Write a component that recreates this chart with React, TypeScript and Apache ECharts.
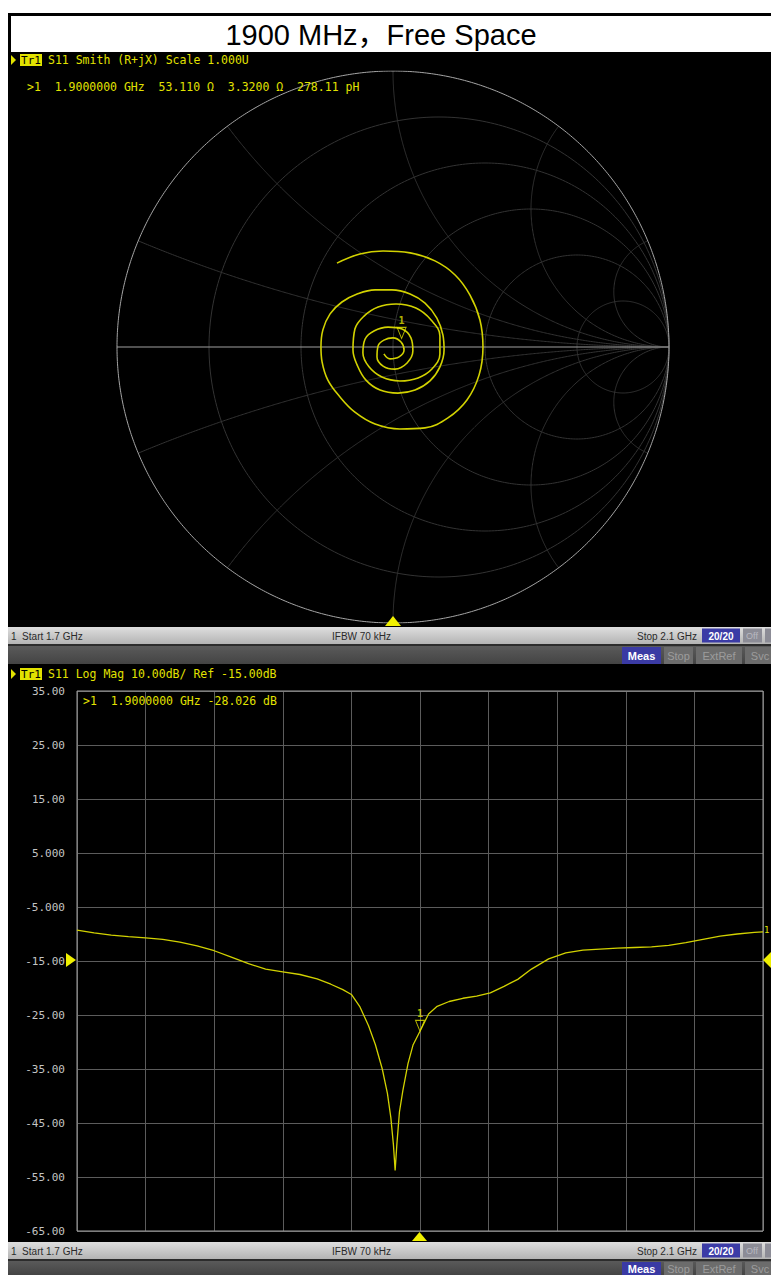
import React, { useEffect, useRef } from "react";
import * as echarts from "echarts";

// ---------------- texts ----------------
const titleText = "1900 MHz，Free Space";
const smithHeader = "S11 Smith (R+jX) Scale 1.000U";
const smithReadout = ">1  1.9000000 GHz  53.110 Ω  3.3200 Ω  278.11 pH";
const logHeader = "S11 Log Mag 10.00dB/ Ref -15.00dB";
const logReadout = ">1  1.9000000 GHz -28.026 dB";
const statusStart = "1  Start 1.7 GHz";
const statusIfbw = "IFBW 70 kHz";
const statusStop = "Stop 2.1 GHz";
const statusAvg = "20/20";
const softKeys = ["Meas", "Stop", "ExtRef", "Svc"];

// ---------------- sweep / marker ----------------
const freqStart = 1.7;
const freqStop = 2.1;
const markerFreq = 1.9;
const markerDb = -28.026;
const markerR = 53.11;
const markerX = 3.32;
const z0 = 50;

// ---------------- Smith grid values ----------------
const resistanceGrid = [0.2, 0.5, 1, 2, 5];
const reactanceGrid = [0.2, 0.5, 1, 2, 5];

// ---------------- Smith trace (reflection coefficient, re / im) ----------------
const smithRe = [
  -0.203, -0.12, -0.036, 0.062, 0.152, 0.225, 0.279, 0.315, 0.326, 0.312, 0.268, 0.199, 0.116, 0.025,
  -0.065, -0.138, -0.192, -0.236, -0.257, -0.261,
  -0.254, -0.228, -0.185, -0.13, -0.065, -0.004, 0.062, 0.116, 0.159, 0.181, 0.185, 0.17, 0.134, 0.08,
  0.018, -0.047, -0.098, -0.13, -0.145,
  -0.138, -0.105, -0.054, 0.011, 0.083, 0.138, 0.17, 0.17, 0.141, 0.091, 0.025, -0.04, -0.087, -0.109,
  -0.101, -0.069, -0.018, 0.033, 0.065, 0.072, 0.051, 0.007, -0.036, -0.058,
  -0.054, -0.033, 0.0, 0.029, 0.04, 0.022, -0.011, -0.033,
];
const smithIm = [
  0.304, 0.337, 0.348, 0.341, 0.312, 0.261, 0.188, 0.098, 0.0, -0.101, -0.192, -0.257, -0.293, -0.297,
  -0.279, -0.236, -0.181, -0.12, -0.054, 0.0,
  0.062, 0.12, 0.163, 0.192, 0.207, 0.207, 0.192, 0.159, 0.105, 0.043, -0.011, -0.072, -0.123, -0.156,
  -0.167, -0.156, -0.12, -0.065, -0.011,
  0.065, 0.112, 0.145, 0.156, 0.141, 0.098, 0.04, -0.025, -0.08, -0.112, -0.123, -0.109, -0.072, -0.022,
  0.029, 0.058, 0.072, 0.065, 0.033, -0.014, -0.058, -0.08, -0.069, -0.036,
  0.004, 0.025, 0.033, 0.018, -0.011, -0.036, -0.043, -0.025,
];

// ---------------- Log Mag trace ----------------
const freqGHz = [
  1.7, 1.71, 1.72, 1.73, 1.74, 1.75, 1.76, 1.77, 1.78, 1.79, 1.8, 1.81, 1.82, 1.83, 1.84, 1.848, 1.855,
  1.86, 1.865, 1.87, 1.874, 1.878, 1.881, 1.883, 1.8845, 1.8855, 1.8865, 1.888, 1.89, 1.893, 1.896, 1.9,
  1.905, 1.91, 1.917, 1.925, 1.933, 1.941, 1.949, 1.957, 1.965, 1.975, 1.985, 1.995, 2.005, 2.015, 2.025,
  2.035, 2.045, 2.055, 2.065, 2.075, 2.085, 2.095, 2.1,
];
const s11Db = [
  -9.3, -9.8, -10.2, -10.5, -10.7, -11.0, -11.5, -12.2, -13.1, -14.3, -15.5, -16.5, -17.0, -17.5, -18.3,
  -19.3, -20.3, -21.2, -23.5, -27.0, -30.5, -35.0, -39.5, -44.0, -49.0, -53.8, -49.0, -43.0, -39.0, -34.0,
  -30.5, -28.0, -24.8, -23.4, -22.5, -21.9, -21.5, -20.9, -19.7, -18.4, -16.5, -14.6, -13.5, -13.0, -12.8,
  -12.6, -12.5, -12.4, -12.1, -11.6, -11.0, -10.4, -10.0, -9.7, -9.6,
];
const yTickLabels = [
  "-65.00", "-55.00", "-45.00", "-35.00", "-25.00", "-15.00", "-5.000", "5.000", "15.00", "25.00", "35.00",
];
const dbMin = -65;
const dbMax = 35;

// ---------------- helpers ----------------
const YEL = "#e2e200";
const TRACE = "#d2d200";
const MONO = "'DejaVu Sans Mono', monospace";
const SANS = "'Liberation Sans', Arial, 'Noto Sans CJK SC', sans-serif";

function gammaFromZ(r: number, x: number): [number, number] {
  const den = (r + 1) * (r + 1) + x * x;
  return [(r * r - 1 + x * x) / den, (2 * x) / den];
}
function circlePts(cx: number, cy: number, rad: number, n = 360) {
  const pts: number[][] = [];
  for (let i = 0; i <= n; i++) {
    const a = (i / n) * Math.PI * 2;
    pts.push([cx + rad * Math.cos(a), cy + rad * Math.sin(a)]);
  }
  return pts;
}
function reactanceArc(x: number) {
  const pts: number[][] = [];
  const n = 400;
  for (let i = 0; i <= n; i++) {
    const t = (i / n) * (Math.PI / 2) * 0.9998;
    pts.push(gammaFromZ(Math.tan(t), x));
  }
  pts.push([1, 0]);
  return pts;
}

function rect(x: number, y: number, w: number, h: number, fill: any, z = 0) {
  return { type: "rect", shape: { x, y, width: w, height: h }, style: { fill }, z, silent: true };
}
function txt(
  x: number,
  y: number,
  text: string,
  fill: string,
  size: number,
  family: string,
  align = "left",
  weight = "normal",
  z = 5
) {
  return {
    type: "text",
    x,
    y,
    z,
    silent: true,
    style: {
      text,
      fill,
      fontSize: size,
      fontFamily: family,
      fontWeight: weight,
      align,
      verticalAlign: "middle",
      textAlign: align,
      textVerticalAlign: "middle",
    },
  };
}
function poly(points: number[][], fill: string, z = 6) {
  return { type: "polygon", shape: { points }, style: { fill }, z, silent: true };
}

function statusBar(y: number) {
  const grad = new echarts.graphic.LinearGradient(0, 0, 0, 1, [
    { offset: 0, color: "#dedede" },
    { offset: 1, color: "#b4b4b4" },
  ]);
  return [
    rect(8, y, 763, 17, grad, 1),
    txt(11, y + 9, statusStart, "#2a2a2a", 10, SANS),
    txt(332, y + 9, statusIfbw, "#2a2a2a", 10, SANS),
    txt(697, y + 9, statusStop, "#2a2a2a", 10, SANS, "right"),
    rect(702, y + 1.5, 38, 14, "#3b3ba6", 2),
    txt(721, y + 9, statusAvg, "#ffffff", 10, SANS, "center", "bold"),
    rect(743, y + 1.5, 19, 14, "#8c8c96", 2),
    txt(752, y + 9, "Off", "#b8b8c0", 9, SANS, "center"),
    rect(765, y + 1.5, 8, 14, "#8c8c96", 2),
    rect(8, y + 17, 763, 2, "#2c2c2c", 1),
  ];
}
function softKeyBar(y: number, h: number) {
  const grad = new echarts.graphic.LinearGradient(0, 0, 0, 1, [
    { offset: 0, color: "#5a5a5a" },
    { offset: 1, color: "#444444" },
  ]);
  const xs = [622, 664, 696, 745];
  const ws = [39, 29, 46, 30];
  const els: any[] = [rect(8, y, 763, h, grad, 1)];
  softKeys.forEach((k, i) => {
    const active = i === 0;
    els.push(rect(xs[i], y + 1, ws[i], h - 1, active ? "#3a3aa4" : "#6c6c6c", 2));
    els.push(
      txt(xs[i] + ws[i] / 2, y + 1 + (h - 1) / 2, k, active ? "#ffffff" : "#9c9c9c", 11, SANS, "center", active ? "bold" : "normal")
    );
  });
  return els;
}
function header(y: number, label: string) {
  return [
    poly([[11, y - 5], [11, y + 5], [16, y]], YEL),
    rect(20, y - 6, 22, 12, YEL, 5),
    txt(31, y + 0.5, "Tr1", "#000000", 11, MONO, "center"),
    txt(48, y, label, YEL, 11.5, MONO),
  ];
}

export default function App() {
  const ref = useRef<HTMLDivElement>(null);
  useEffect(() => {
    if (!ref.current) return;
    const chart = echarts.init(ref.current, undefined, { renderer: "svg" });

    const gridSeries: any[] = [];
    const gridStyle = { color: "#333333", width: 1 };
    resistanceGrid.forEach((r) => {
      gridSeries.push({
        type: "line",
        xAxisIndex: 0,
        yAxisIndex: 0,
        data: circlePts(r / (1 + r), 0, 1 / (1 + r)),
        showSymbol: false,
        silent: true,
        lineStyle: gridStyle,
        z: 1,
      });
    });
    reactanceGrid.forEach((x) => {
      [x, -x].forEach((xx) => {
        gridSeries.push({
          type: "line",
          xAxisIndex: 0,
          yAxisIndex: 0,
          data: reactanceArc(xx),
          showSymbol: false,
          silent: true,
          lineStyle: gridStyle,
          z: 1,
        });
      });
    });
    gridSeries.push({
      type: "line",
      xAxisIndex: 0,
      yAxisIndex: 0,
      data: circlePts(0, 0, 1, 720),
      showSymbol: false,
      silent: true,
      lineStyle: { color: "#a6a6a6", width: 1 },
      z: 2,
    });
    gridSeries.push({
      type: "line",
      xAxisIndex: 0,
      yAxisIndex: 0,
      data: [
        [-1, 0],
        [1, 0],
      ],
      showSymbol: false,
      silent: true,
      lineStyle: { color: "#a0a0a0", width: 1 },
      z: 2,
    });

    const markerGamma = gammaFromZ(markerR / z0, markerX / z0);
    const markerSymbol = "path://M0,0 L10,0 L5,12 Z";
    const markerSeries = (xi: number, yi: number, pt: number[]) => ({
      type: "scatter",
      xAxisIndex: xi,
      yAxisIndex: yi,
      data: [pt],
      symbol: markerSymbol,
      symbolSize: [9, 11],
      symbolOffset: [0, "-50%"],
      itemStyle: { color: "rgba(0,0,0,0)", borderColor: YEL, borderWidth: 1 },
      label: {
        show: true,
        formatter: "1",
        position: "top",
        distance: 1,
        color: YEL,
        fontSize: 10,
        fontWeight: "bold",
        fontFamily: MONO,
      },
      silent: true,
      z: 6,
    });

    const graphics: any[] = [
      rect(8, 13, 763, 1262, "#000000", 0),
      rect(11, 16, 760, 36, "#ffffff", 1),
      txt(381, 34.5, titleText, "#000000", 29, SANS, "center"),
      ...header(60, smithHeader),
      txt(27, 87, smithReadout, YEL, 11.5, MONO),
      poly([[385, 626], [401, 626], [393, 616]], "#f0f000"),
      ...statusBar(627),
      ...softKeyBar(646, 18),
      ...header(674, logHeader),
      txt(83, 701, logReadout, YEL, 11.5, MONO),
      poly([[66, 953], [66, 967], [76, 960]], "#f0f000"),
      poly([[771, 952], [771, 968], [763, 960]], "#f0f000"),
      txt(764, 930, "1", YEL, 9, MONO),
      poly([[412, 1241], [427, 1241], [419.5, 1232]], "#f0f000"),
      ...statusBar(1242),
      ...softKeyBar(1261, 14),
    ];

    const option: any = {
      animation: false,
      backgroundColor: "#ffffff",
      grid: [
        { left: 117, top: 71, width: 552, height: 552, show: false },
        {
          left: 77,
          top: 691,
          width: 686,
          height: 540,
          show: true,
          borderColor: "#a0a0a0",
          borderWidth: 1,
          backgroundColor: "rgba(0,0,0,0)",
          z: 1,
        },
      ],
      xAxis: [
        { gridIndex: 0, type: "value", min: -1, max: 1, show: false },
        {
          gridIndex: 1,
          type: "value",
          min: 0,
          max: 10,
          interval: 1,
          axisLabel: { show: false },
          axisTick: { show: false },
          axisLine: { show: false },
          splitLine: { show: true, lineStyle: { color: "#5c5c5c", width: 1 } },
        },
        { gridIndex: 1, type: "value", min: freqStart, max: freqStop, show: false },
      ],
      yAxis: [
        { gridIndex: 0, type: "value", min: -1, max: 1, show: false },
        {
          gridIndex: 1,
          type: "value",
          min: 0,
          max: 10,
          interval: 1,
          axisTick: { show: false },
          axisLine: { show: false },
          splitLine: { show: true, lineStyle: { color: "#5c5c5c", width: 1 } },
          axisLabel: {
            show: true,
            margin: 12,
            color: "#c4c4c4",
            fontSize: 11,
            fontFamily: MONO,
            formatter: (v: number) => yTickLabels[Math.round(v)] ?? "",
          },
        },
        { gridIndex: 1, type: "value", min: dbMin, max: dbMax, show: false },
      ],
      series: [
        ...gridSeries,
        {
          type: "line",
          xAxisIndex: 0,
          yAxisIndex: 0,
          data: smithRe.map((v, i) => [v, smithIm[i]]),
          showSymbol: false,
          smooth: 0.4,
          silent: true,
          lineStyle: { color: TRACE, width: 1.6 },
          z: 4,
        },
        markerSeries(0, 0, markerGamma),
        {
          type: "line",
          xAxisIndex: 2,
          yAxisIndex: 2,
          data: freqGHz.map((f, i) => [f, s11Db[i]]),
          showSymbol: false,
          silent: true,
          lineStyle: { color: TRACE, width: 1.3 },
          z: 4,
        },
        markerSeries(2, 2, [markerFreq, markerDb]),
      ],
      graphic: { elements: graphics },
    };
    chart.setOption(option);
    return () => chart.dispose();
  }, []);

  return (
    <div
      ref={ref}
      style={{ position: "absolute", left: 0, top: 0, width: 771, height: 1275, overflow: "hidden" }}
    />
  );
}
